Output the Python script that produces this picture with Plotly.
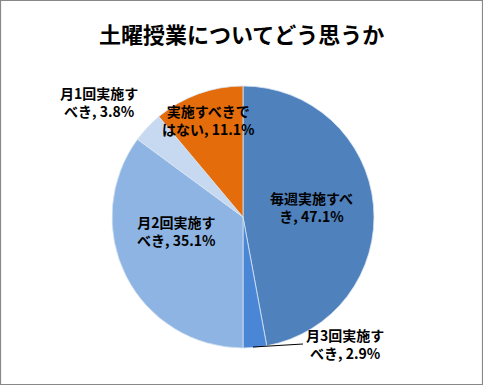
import plotly.graph_objects as go

labels = ["毎週実施すべき", "月3回実施すべき", "月2回実施すべき", "月1回実施すべき", "実施すべきではない"]
values = [47.1, 2.9, 35.1, 3.8, 11.1]
colors = ["#4F81BD", "#4A86D6", "#8DB4E2", "#C6D9F1", "#E46C0A"]
label_lines = [["毎週実施すべ", "き"], ["月3回実施す", "べき"], ["月2回実施す", "べき"],
               ["月1回実施す", "べき"], ["実施すべきで", "はない"]]
title = "土曜授業についてどう思うか"

W, H = 483, 385
font = "Noto Sans CJK JP"

fig = go.Figure(go.Pie(
    labels=labels, values=values, sort=False, direction="clockwise", rotation=0,
    marker=dict(colors=colors, line=dict(color="#D8E4F2", width=0.8)),
    textinfo="none", hoverinfo="label+percent", showlegend=False,
    domain=dict(x=[110 / W, 376 / W], y=[1 - 348 / H, 1 - 86 / H]),
))

# label positions in pixels (center of text)
pos = [(311, 207), (345, 344), (176, 231), (99, 102), (208, 120)]
ann = []
for (px, py), lines, v in zip(pos, label_lines, values):
    txt = lines[0] + "<br>" + lines[1] + ", " + f"{v:.1f}%"
    ann.append(dict(x=px / W, y=1 - py / H, xref="paper", yref="paper", text="<b>" + txt + "</b>",
                    showarrow=False, font=dict(family=font, size=14, color="#000000"),
                    xanchor="center", yanchor="middle", align="center"))
ann.append(dict(x=241 / W, y=1 - 33 / H, xref="paper", yref="paper", text="<b>" + title + "</b>",
                showarrow=False, font=dict(family=font, size=22, color="#000000"),
                xanchor="center", yanchor="middle"))

shapes = [
    dict(type="rect", xref="paper", yref="paper", x0=0.5 / W, x1=1 - 0.5 / W, y0=0.5 / H, y1=1 - 0.5 / H,
         line=dict(color="#888888", width=1.2)),
    dict(type="line", xref="paper", yref="paper", x0=253 / W, y0=1 - 347 / H, x1=303 / W, y1=1 - 344 / H,
         line=dict(color="#000000", width=1)),
]

fig.update_layout(width=W, height=H, margin=dict(l=0, r=0, t=0, b=0),
                  paper_bgcolor="white", plot_bgcolor="white",
                  annotations=ann, shapes=shapes, font=dict(family=font))
fig.write_html("out.html", config={"displayModeBar": False},
               post_script="document.body.style.margin='0';document.body.style.overflow='hidden';")
